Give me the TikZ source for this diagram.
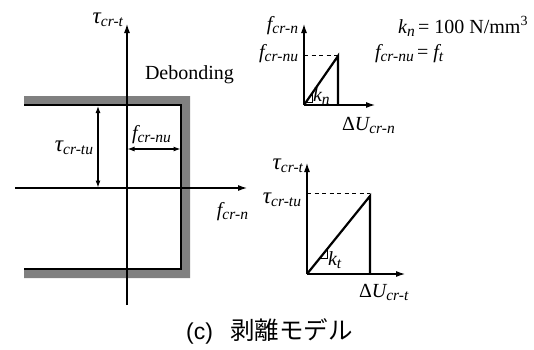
\documentclass[tikz,border=0pt]{standalone}
\usepackage{fontspec}
\setmainfont{Liberation Serif}
\newfontfamily\cjkfont{Noto Sans CJK JP}
\newfontfamily\capsans{Liberation Sans}
\usetikzlibrary{arrows.meta}
\newcommand{\lblsub}[2]{{\fontsize{20}{20}\selectfont\itshape #1}{\fontsize{15.5}{15.5}\selectfont\itshape\raisebox{-3pt}{#2}}}
\newcommand{\taulbl}[1]{{\fontsize{23}{23}\selectfont\itshape τ}{\fontsize{15.5}{15.5}\selectfont\itshape\raisebox{-3pt}{#1}}}
\tikzset{
  axisline/.style={line width=1.1pt,-{Latex[length=9pt,width=6pt]}},
  dimarrow/.style={line width=1.1pt,{Latex[length=7pt,width=5pt]}-{Latex[length=7pt,width=5pt]}},
  curve/.style={line width=2.2pt},
  dashline/.style={line width=1pt,dash pattern=on 4pt off 3.5pt},
  lbl/.style={inner sep=0pt,outer sep=0pt,font=\fontsize{20}{20}\selectfont},
  marker/.style={line width=0.8pt}
}
\begin{document}
\begin{tikzpicture}[x=1pt,y=-1pt]
\useasboundingbox (0,0) rectangle (534,349);
% ---------- left diagram ----------
\fill[black!50] (24,96) -- (190,96) -- (190,278) -- (24,278) -- (24,269) -- (181,269) -- (181,105) -- (24,105) -- cycle;
\draw[line width=2pt] (24,105) -- (181,105) -- (181,269) -- (24,269);
\coordinate (lvb) at (127,305);
\coordinate (lvt) at (127,24);
\coordinate (lhl) at (15,188);
\coordinate (lhr) at (247,188);
\draw[axisline] (lvb) -- (lvt);
\draw[axisline] (lhl) -- (lhr);
\coordinate (tua) at (98,106);
\coordinate (tub) at (98,187.5);
\draw[dimarrow] (tua) -- (tub);
\coordinate (fna) at (127.5,149);
\coordinate (fnb) at (180.5,149);
\draw[dimarrow] (fna) -- (fnb);
\node[lbl,anchor=base east] (ltau) at (123,23) {\taulbl{cr-t}};
\node[lbl,anchor=base east] (lfn) at (248,216) {\lblsub{f}{cr-n}};
\node[lbl,anchor=base east] (ltautu) at (93,151) {\taulbl{cr-tu}};
\node[lbl,anchor=base west] (lfnu) at (132,139) {\lblsub{f}{cr-nu}};
\node[lbl,anchor=base west] (deb) at (145,79) {Debonding};
% ---------- top right diagram ----------
\coordinate (ao) at (304,105);
\coordinate (avt) at (304,24);
\coordinate (ahr) at (375,105);
\draw[axisline] (ao) -- (avt);
\draw[axisline] (ao) -- (ahr);
\coordinate (apk) at (338,56);
\coordinate (abt) at (338,105);
\draw[dashline] (304,55) -- (338,55);
\draw[curve,line join=miter] (ao) -- (apk) -- (abt);
\draw[marker] (306.1,102) -- (312,102) -- (312,93.5);
\node[lbl,anchor=base east] (afn) at (298,30) {\lblsub{f}{cr-n}};
\node[lbl,anchor=base east] (afnu) at (298,58) {\lblsub{f}{cr-nu}};
\node[lbl,anchor=base west] (akn) at (313,101) {\lblsub{k}{n}};
\node[lbl,anchor=base west] (adu) at (342,130) {Δ\lblsub{U}{cr-n}};
\node[lbl,anchor=base east] (akval) at (528,33) {\lblsub{k}{n}\,= 100 N/mm\textsuperscript{3}};
\node[lbl,anchor=base west] (aft) at (375,58) {\lblsub{f}{cr-nu}\,= \lblsub{f}{t}};
% ---------- bottom right diagram ----------
\coordinate (bo) at (307,274);
\coordinate (bvt) at (307,163);
\coordinate (bhr) at (405,274);
\draw[axisline] (bo) -- (bvt);
\draw[axisline] (bo) -- (bhr);
\coordinate (bpk) at (370,196);
\coordinate (bbt) at (370,274);
\draw[dashline] (307,193) -- (370,193);
\draw[curve,line join=miter] (bo) -- (bpk) -- (bbt);
\draw[marker] (320.0,258) -- (327,258) -- (327,249.2);
\node[lbl,anchor=base east] (btau) at (303,169) {\taulbl{cr-t}};
\node[lbl,anchor=base east] (btautu) at (301,203) {\taulbl{cr-tu}};
\node[lbl,anchor=base west] (bkt) at (328,265) {\lblsub{k}{t}};
\node[lbl,anchor=base west] (bdu) at (359,297) {Δ\lblsub{U}{cr-t}};
% ---------- caption ----------
\node[inner sep=0pt,anchor=base west] (cap) at (186,339) {{\capsans\fontsize{23}{23}\selectfont (c)}\hspace{17pt}{\cjkfont\fontsize{24.5}{24.5}\selectfont 剥離モデル}};
\end{tikzpicture}
\end{document}
